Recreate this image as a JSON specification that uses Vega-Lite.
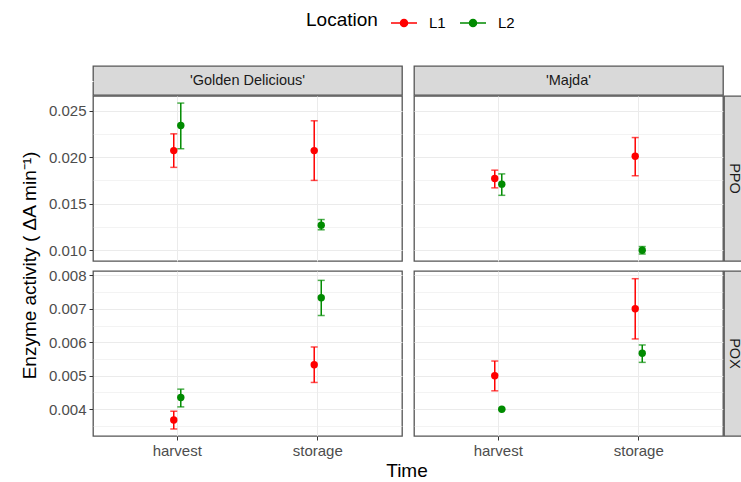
{
  "$schema": "https://vega.github.io/schema/vega-lite/v6.json",
  "autosize": {"type": "pad"},
  "padding": {"left": 20, "top": 9, "right": 0, "bottom": 0},
  "datasets": {
    "d": [
      {"Enzyme": "PPO", "Cultivar": "Golden Delicious", "Time": "harvest", "Location": "L1", "mean": 0.0207, "lo": 0.0189, "hi": 0.0225},
      {"Enzyme": "PPO", "Cultivar": "Golden Delicious", "Time": "harvest", "Location": "L2", "mean": 0.0234, "lo": 0.0209, "hi": 0.0258},
      {"Enzyme": "PPO", "Cultivar": "Golden Delicious", "Time": "storage", "Location": "L1", "mean": 0.0207, "lo": 0.0175, "hi": 0.0239},
      {"Enzyme": "PPO", "Cultivar": "Golden Delicious", "Time": "storage", "Location": "L2", "mean": 0.0127, "lo": 0.0122, "hi": 0.0133},
      {"Enzyme": "PPO", "Cultivar": "Majda", "Time": "harvest", "Location": "L1", "mean": 0.0177, "lo": 0.0167, "hi": 0.0186},
      {"Enzyme": "PPO", "Cultivar": "Majda", "Time": "harvest", "Location": "L2", "mean": 0.0171, "lo": 0.0159, "hi": 0.0182},
      {"Enzyme": "PPO", "Cultivar": "Majda", "Time": "storage", "Location": "L1", "mean": 0.0201, "lo": 0.0180, "hi": 0.0221},
      {"Enzyme": "PPO", "Cultivar": "Majda", "Time": "storage", "Location": "L2", "mean": 0.0100, "lo": 0.0096, "hi": 0.0104},
      {"Enzyme": "POX", "Cultivar": "Golden Delicious", "Time": "harvest", "Location": "L1", "mean": 0.00368, "lo": 0.00341, "hi": 0.00394},
      {"Enzyme": "POX", "Cultivar": "Golden Delicious", "Time": "harvest", "Location": "L2", "mean": 0.00435, "lo": 0.00407, "hi": 0.0046},
      {"Enzyme": "POX", "Cultivar": "Golden Delicious", "Time": "storage", "Location": "L1", "mean": 0.00533, "lo": 0.0048, "hi": 0.00586},
      {"Enzyme": "POX", "Cultivar": "Golden Delicious", "Time": "storage", "Location": "L2", "mean": 0.00733, "lo": 0.0068, "hi": 0.00785},
      {"Enzyme": "POX", "Cultivar": "Majda", "Time": "harvest", "Location": "L1", "mean": 0.0050, "lo": 0.00455, "hi": 0.00544},
      {"Enzyme": "POX", "Cultivar": "Majda", "Time": "harvest", "Location": "L2", "mean": 0.0040, "lo": 0.00398, "hi": 0.00402},
      {"Enzyme": "POX", "Cultivar": "Majda", "Time": "storage", "Location": "L1", "mean": 0.0070, "lo": 0.0061, "hi": 0.0079},
      {"Enzyme": "POX", "Cultivar": "Majda", "Time": "storage", "Location": "L2", "mean": 0.00567, "lo": 0.0054, "hi": 0.00592}
    ]
  },
  "spacing": 6,
  "hconcat": [
    {
      "width": 20, "height": 399,
      "view": {"stroke": null},
      "data": {"values": [{"t": "Enzyme activity ( ΔA min⁻¹)"}]},
      "mark": {"type": "text", "angle": 270, "fontSize": 19, "color": "#000000"},
      "encoding": {"text": {"field": "t", "type": "nominal"}}
    },
    {
      "spacing": 3,
      "resolve": {"scale": {"x": "independent", "y": "independent", "xOffset": "independent"}},
      "vconcat": [
        {
          "spacing": 5,
          "resolve": {"scale": {"x": "independent", "y": "independent", "xOffset": "independent"}},
          "vconcat": [
            {
              "spacing": -1,
              "resolve": {"scale": {"x": "independent", "y": "independent", "xOffset": "independent"}},
              "vconcat": [
                {
                  "spacing": 10,
                  "resolve": {"scale": {"x": "independent", "y": "independent"}},
                  "hconcat": [
                    {
                      "width": 309, "height": 29, "view": {"fill": "#D9D9D9", "stroke": "#555555", "strokeWidth": 1.3},
                      "data": {"values": [{"s": "'Golden Delicious'", "v": 0.5}]},
                      "layer": [
                        {"mark": {"type": "point", "opacity": 0}, "encoding": {"y": {"field": "v", "type": "quantitative", "scale": {"domain": [0, 1]}, "axis": {"values": [0.5], "labelExpr": "'0.000'", "labelColor": "#ffffff", "tickColor": "#ffffff", "grid": false, "domain": false, "title": null}}}},
                        {"mark": {"type": "text", "fontSize": 14.5, "color": "#1A1A1A"}, "encoding": {"text": {"field": "s", "type": "nominal"}}}
                      ]
                    },
                    {"width": 309, "height": 29, "view": {"fill": "#D9D9D9", "stroke": "#555555", "strokeWidth": 1.3}, "data": {"values": [{"s": "'Majda'"}]}, "mark": {"type": "text", "fontSize": 14.5, "color": "#1A1A1A"}, "encoding": {"text": {"field": "s", "type": "nominal"}}}
                  ]
                },
                {
                  "spacing": 10,
                  "resolve": {"scale": {"x": "independent", "y": "independent", "xOffset": "independent"}},
                  "hconcat": [
                    {
                      "width": 309, "height": 165,
                      "data": {"name": "d"},
                      "transform": [{"filter": "datum.Enzyme === 'PPO' && datum.Cultivar === 'Golden Delicious'"}],
                      "encoding": {
                        "x": {"field": "Time", "type": "nominal", "scale": {"type": "band", "domain": ["harvest", "storage"], "paddingInner": 0.9, "paddingOuter": 0.55}, "axis": {"labels": false, "ticks": false, "grid": true, "domain": false, "title": null, "bandPosition": 0.5}},
                        "xOffset": {"field": "Location", "type": "nominal", "scale": {"domain": ["L1", "L2"]}},
                        "color": {"field": "Location", "type": "nominal", "scale": {"domain": ["L1", "L2"], "range": ["#FF0000", "#008B00"]}, "title": "Location"}
                      },
                      "layer": [
                        {"mark": {"type": "rule", "strokeWidth": 1.5}, "encoding": {"y": {"field": "lo", "type": "quantitative", "title": null, "scale": {"domain": [0.00885, 0.02656], "nice": false, "zero": false}, "axis": {"values": [0.01, 0.0125, 0.015, 0.0175, 0.02, 0.0225, 0.025], "tickCount": 40, "labelOverlap": false, "labelExpr": "round(datum.value*10000) % 50 == 0 ? format(datum.value, '.3f') : ''", "tickOpacity": {"condition": {"test": "round(datum.value*10000) % 50 != 0", "value": 0}, "value": 1}, "gridWidth": {"condition": {"test": "round(datum.value*10000) % 50 != 0", "value": 0.6}, "value": 1.2}, "grid": true, "domain": false, "title": null}}, "y2": {"field": "hi"}}},
                        {"mark": {"type": "tick", "size": 7, "thickness": 1.5}, "encoding": {"y": {"field": "lo", "type": "quantitative", "title": null}}},
                        {"mark": {"type": "tick", "size": 7, "thickness": 1.5}, "encoding": {"y": {"field": "hi", "type": "quantitative", "title": null}}},
                        {"mark": {"type": "point", "filled": true, "size": 55, "opacity": 1}, "encoding": {"y": {"field": "mean", "type": "quantitative", "title": null}}}
                      ]
                    },
                    {
                      "spacing": -1,
                      "resolve": {"scale": {"x": "independent", "y": "independent", "xOffset": "independent"}},
                      "hconcat": [
                        {
                          "width": 309, "height": 165,
                          "data": {"name": "d"},
                          "transform": [{"filter": "datum.Enzyme === 'PPO' && datum.Cultivar === 'Majda'"}],
                          "encoding": {
                            "x": {"field": "Time", "type": "nominal", "scale": {"type": "band", "domain": ["harvest", "storage"], "paddingInner": 0.9, "paddingOuter": 0.55}, "axis": {"labels": false, "ticks": false, "grid": true, "domain": false, "title": null, "bandPosition": 0.5}},
                            "xOffset": {"field": "Location", "type": "nominal", "scale": {"domain": ["L1", "L2"]}},
                            "color": {"field": "Location", "type": "nominal", "scale": {"domain": ["L1", "L2"], "range": ["#FF0000", "#008B00"]}, "title": "Location"}
                          },
                          "layer": [
                            {"mark": {"type": "rule", "strokeWidth": 1.5}, "encoding": {"y": {"field": "lo", "type": "quantitative", "title": null, "scale": {"domain": [0.00885, 0.02656], "nice": false, "zero": false}, "axis": {"values": [0.01, 0.0125, 0.015, 0.0175, 0.02, 0.0225, 0.025], "tickCount": 40, "labels": false, "ticks": false, "gridWidth": {"condition": {"test": "round(datum.value*10000) % 50 != 0", "value": 0.6}, "value": 1.2}, "grid": true, "domain": false, "title": null}}, "y2": {"field": "hi"}}},
                            {"mark": {"type": "tick", "size": 7, "thickness": 1.5}, "encoding": {"y": {"field": "lo", "type": "quantitative", "title": null}}},
                            {"mark": {"type": "tick", "size": 7, "thickness": 1.5}, "encoding": {"y": {"field": "hi", "type": "quantitative", "title": null}}},
                            {"mark": {"type": "point", "filled": true, "size": 55, "opacity": 1}, "encoding": {"y": {"field": "mean", "type": "quantitative", "title": null}}}
                          ]
                        },
                        {"width": 19, "height": 165, "view": {"fill": "#D9D9D9", "stroke": "#555555", "strokeWidth": 1.3}, "data": {"values": [{"s": "PPO"}]}, "mark": {"type": "text", "fontSize": 14.5, "angle": 90, "color": "#1A1A1A"}, "encoding": {"text": {"field": "s", "type": "nominal"}}}
                      ]
                    }
                  ]
                }
              ]
            },
            {
              "spacing": 10,
              "resolve": {"scale": {"x": "independent", "y": "independent", "xOffset": "independent"}},
              "hconcat": [
                {
                  "width": 309, "height": 165,
                  "data": {"name": "d"},
                  "transform": [{"filter": "datum.Enzyme === 'POX' && datum.Cultivar === 'Golden Delicious'"}],
                  "encoding": {
                    "x": {"field": "Time", "type": "nominal", "scale": {"type": "band", "domain": ["harvest", "storage"], "paddingInner": 0.9, "paddingOuter": 0.55}, "axis": {"labels": true, "ticks": true, "grid": true, "domain": false, "title": null, "bandPosition": 0.5, "labelAngle": 0}},
                    "xOffset": {"field": "Location", "type": "nominal", "scale": {"domain": ["L1", "L2"]}},
                    "color": {"field": "Location", "type": "nominal", "scale": {"domain": ["L1", "L2"], "range": ["#FF0000", "#008B00"]}, "title": "Location"}
                  },
                  "layer": [
                    {"mark": {"type": "rule", "strokeWidth": 1.5}, "encoding": {"y": {"field": "lo", "type": "quantitative", "title": null, "scale": {"domain": [0.0032, 0.00813], "nice": false, "zero": false}, "axis": {"values": [0.0035, 0.004, 0.0045, 0.005, 0.0055, 0.006, 0.0065, 0.007, 0.0075, 0.008], "tickCount": 40, "labelOverlap": false, "labelExpr": "round(datum.value*10000) % 10 == 0 ? format(datum.value, '.3f') : ''", "tickOpacity": {"condition": {"test": "round(datum.value*10000) % 10 != 0", "value": 0}, "value": 1}, "gridWidth": {"condition": {"test": "round(datum.value*10000) % 10 != 0", "value": 0.6}, "value": 1.2}, "grid": true, "domain": false, "title": null}}, "y2": {"field": "hi"}}},
                    {"mark": {"type": "tick", "size": 7, "thickness": 1.5}, "encoding": {"y": {"field": "lo", "type": "quantitative", "title": null}}},
                    {"mark": {"type": "tick", "size": 7, "thickness": 1.5}, "encoding": {"y": {"field": "hi", "type": "quantitative", "title": null}}},
                    {"mark": {"type": "point", "filled": true, "size": 55, "opacity": 1}, "encoding": {"y": {"field": "mean", "type": "quantitative", "title": null}}}
                  ]
                },
                {
                  "spacing": -1,
                  "resolve": {"scale": {"x": "independent", "y": "independent", "xOffset": "independent"}},
                  "hconcat": [
                    {
                      "width": 309, "height": 165,
                      "data": {"name": "d"},
                      "transform": [{"filter": "datum.Enzyme === 'POX' && datum.Cultivar === 'Majda'"}],
                      "encoding": {
                        "x": {"field": "Time", "type": "nominal", "scale": {"type": "band", "domain": ["harvest", "storage"], "paddingInner": 0.9, "paddingOuter": 0.55}, "axis": {"labels": true, "ticks": true, "grid": true, "domain": false, "title": null, "bandPosition": 0.5, "labelAngle": 0}},
                        "xOffset": {"field": "Location", "type": "nominal", "scale": {"domain": ["L1", "L2"]}},
                        "color": {"field": "Location", "type": "nominal", "scale": {"domain": ["L1", "L2"], "range": ["#FF0000", "#008B00"]}, "title": "Location"}
                      },
                      "layer": [
                        {"mark": {"type": "rule", "strokeWidth": 1.5}, "encoding": {"y": {"field": "lo", "type": "quantitative", "title": null, "scale": {"domain": [0.0032, 0.00813], "nice": false, "zero": false}, "axis": {"values": [0.0035, 0.004, 0.0045, 0.005, 0.0055, 0.006, 0.0065, 0.007, 0.0075, 0.008], "tickCount": 40, "labels": false, "ticks": false, "gridWidth": {"condition": {"test": "round(datum.value*10000) % 10 != 0", "value": 0.6}, "value": 1.2}, "grid": true, "domain": false, "title": null}}, "y2": {"field": "hi"}}},
                        {"mark": {"type": "tick", "size": 7, "thickness": 1.5}, "encoding": {"y": {"field": "lo", "type": "quantitative", "title": null}}},
                        {"mark": {"type": "tick", "size": 7, "thickness": 1.5}, "encoding": {"y": {"field": "hi", "type": "quantitative", "title": null}}},
                        {"mark": {"type": "point", "filled": true, "size": 55, "opacity": 1}, "encoding": {"y": {"field": "mean", "type": "quantitative", "title": null}}}
                      ]
                    },
                    {"width": 19, "height": 165, "view": {"fill": "#D9D9D9", "stroke": "#555555", "strokeWidth": 1.3}, "data": {"values": [{"s": "POX"}]}, "mark": {"type": "text", "fontSize": 14.5, "angle": 90, "color": "#1A1A1A"}, "encoding": {"text": {"field": "s", "type": "nominal"}}}
                  ]
                }
              ]
            }
          ]
        },
        {
          "width": 628, "height": 16,
          "view": {"stroke": null},
          "data": {"values": [{"t": "Time", "v": 0.5}]},
          "layer": [
            {"mark": {"type": "point", "opacity": 0}, "encoding": {"y": {"field": "v", "type": "quantitative", "scale": {"domain": [0, 1]}, "axis": {"values": [0.5], "labelExpr": "'0.000'", "labelColor": "#ffffff", "tickColor": "#ffffff", "grid": false, "domain": false, "title": null}}}},
            {"mark": {"type": "text", "fontSize": 19, "color": "#000000"}, "encoding": {"text": {"field": "t", "type": "nominal"}}}
          ]
        }
      ]
    }
  ],
  "resolve": {"scale": {"x": "independent", "y": "independent", "xOffset": "independent"}},
  "config": {
    "font": "Liberation Sans",
    "view": {"stroke": "#555555", "strokeWidth": 1.3},
    "axis": {"labelColor": "#4D4D4D", "labelFontSize": 15, "tickColor": "#333333", "tickSize": 4, "tickWidth": 1, "gridColor": "#EBEBEB", "labelPadding": 3},
    "legend": {
      "orient": "none", "legendX": 286, "legendY": -57, "direction": "horizontal",
      "titleOrient": "left", "titleFontSize": 19, "titleFontWeight": "normal", "titleColor": "#000000", "titleBaseline": "middle",
      "labelFontSize": 15, "labelColor": "#000000", "labelOffset": 11,
      "symbolType": "M-1,0H1M-0.27,0A0.27,0.27 0 1,1 0.27,0A0.27,0.27 0 1,1 -0.27,0Z",
      "symbolSize": 676, "symbolStrokeWidth": 1.5, "symbolOpacity": 1, "columnPadding": 11, "titlePadding": 12
    }
  }
}
